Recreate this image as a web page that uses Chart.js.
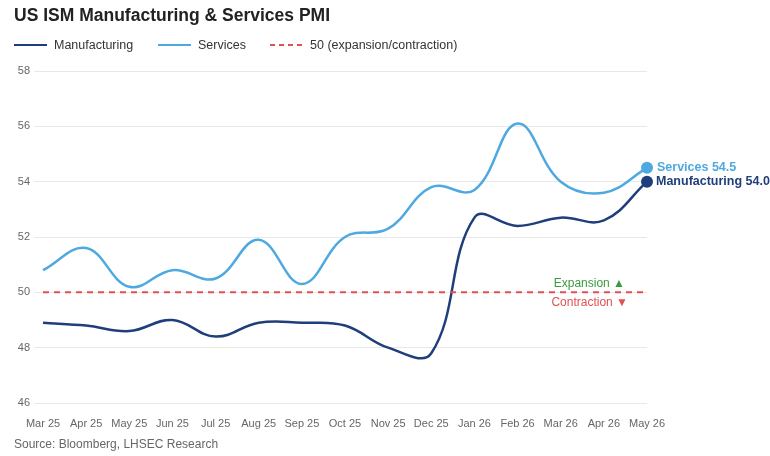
<!DOCTYPE html>
<html>
<head>
<meta charset="utf-8">
<script src="https://cdn.jsdelivr.net/npm/chart.js@4/dist/chart.umd.min.js"></script>
<style>
  html, body { margin: 0; padding: 0; background: #fff; }
  #wrap { width: 770px; height: 456px; }
</style>
</head>
<body>
<div id="wrap"><canvas id="pmi" width="770" height="456"></canvas></div>
<script>
const months = ["Mar 25", "Apr 25", "May 25", "Jun 25", "Jul 25", "Aug 25", "Sep 25", "Oct 25",
                "Nov 25", "Dec 25", "Jan 26", "Feb 26", "Mar 26", "Apr 26", "May 26"];
const manufacturing = [48.9, 48.8, 48.6, 49.0, 48.4, 48.9, 48.9, 48.8, 48.0, 47.8, 52.7, 52.4, 52.7, 52.6, 54.0];
const services = [50.8, 51.6, 50.2, 50.8, 50.5, 51.9, 50.3, 52.0, 52.3, 53.8, 53.7, 56.1, 54.0, 53.6, 54.5];
const threshold = 50;
const yTicks = [46, 48, 50, 52, 54, 56, 58];

const NAVY = "#1f3e7c";
const SKY = "#4ea9e0";
const RED = "#e05252";
const GREEN = "#3c9a3f";
const FONT = "'Liberation Sans', Arial, sans-serif";

const last = months.length - 1;
const endDot = ctx => (ctx.dataIndex === last ? 6 : 0);

// title, legend, end labels, zone notes and source line
const decorations = {
  id: "decorations",
  afterDraw(chart) {
    const c = chart.ctx;
    const x = chart.scales.x;
    const y = chart.scales.y;
    c.save();
    c.textBaseline = "middle";

    c.fillStyle = "#222";
    c.font = "bold 17.5px " + FONT;
    c.textAlign = "left";
    c.fillText("US ISM Manufacturing & Services PMI", 14, 16);

    const legend = [
      { label: "Manufacturing", color: NAVY, dash: [], x: 14 },
      { label: "Services", color: SKY, dash: [], x: 158 },
      { label: "50 (expansion/contraction)", color: RED, dash: [5, 4], x: 270 }
    ];
    c.font = "12.5px " + FONT;
    legend.forEach(item => {
      c.strokeStyle = item.color;
      c.lineWidth = 2;
      c.setLineDash(item.dash);
      c.beginPath();
      c.moveTo(item.x, 45);
      c.lineTo(item.x + 33, 45);
      c.stroke();
      c.setLineDash([]);
      c.fillStyle = "#333";
      c.fillText(item.label, item.x + 40, 45.5);
    });

    const xe = x.getPixelForValue(last);
    c.font = "bold 12.5px " + FONT;
    c.fillStyle = SKY;
    c.fillText("Services " + services[last].toFixed(1), xe + 10, y.getPixelForValue(services[last]));
    c.fillStyle = NAVY;
    c.fillText("Manufacturing " + manufacturing[last].toFixed(1), xe + 9, y.getPixelForValue(manufacturing[last]));

    const y50 = y.getPixelForValue(threshold);
    c.font = "12px " + FONT;
    c.textAlign = "right";
    c.fillStyle = GREEN;
    c.fillText("Expansion \u25B2", xe - 22, y50 - 9);
    c.fillStyle = RED;
    c.fillText("Contraction \u25BC", xe - 19, y50 + 10);

    c.textAlign = "left";
    c.fillStyle = "#666";
    c.font = "12px " + FONT;
    c.fillText("Source: Bloomberg, LHSEC Research", 14, 445);
    c.restore();
  }
};

new Chart(document.getElementById("pmi").getContext("2d"), {
  type: "line",
  data: {
    labels: months,
    datasets: [
      {
        label: "50 (expansion/contraction)",
        data: months.map(() => threshold),
        borderColor: RED,
        borderWidth: 2,
        borderDash: [6, 5],
        pointRadius: 0,
        tension: 0
      },
      {
        label: "Services",
        data: services,
        borderColor: SKY,
        backgroundColor: SKY,
        borderWidth: 2.5,
        tension: 0.4,
        pointRadius: endDot,
        pointBorderWidth: 0
      },
      {
        label: "Manufacturing",
        data: manufacturing,
        borderColor: NAVY,
        backgroundColor: NAVY,
        borderWidth: 2.5,
        tension: 0.4,
        pointRadius: endDot,
        pointBorderWidth: 0
      }
    ]
  },
  options: {
    responsive: false,
    animation: false,
    layout: { padding: { top: 71, right: 123, bottom: 0, left: 0 } },
    plugins: {
      legend: { display: false },
      title: { display: false },
      tooltip: { enabled: false }
    },
    scales: {
      x: {
        grid: { display: false, drawTicks: false },
        border: { display: false },
        ticks: { color: "#666", font: { family: FONT, size: 11 }, padding: 14, maxRotation: 0, autoSkip: false },
        afterFit: s => { s.height = 53; }
      },
      y: {
        min: 46,
        max: 58,
        afterBuildTicks: s => { s.ticks = yTicks.map(v => ({ value: v })); },
        grid: { color: "#e8e8e8", tickLength: 9, tickColor: "#e8e8e8" },
        border: { display: false },
        ticks: { color: "#666", font: { family: FONT, size: 11 }, padding: 4 },
        afterFit: s => { s.width = 43; }
      }
    }
  },
  plugins: [decorations]
});
</script>
</body>
</html>
